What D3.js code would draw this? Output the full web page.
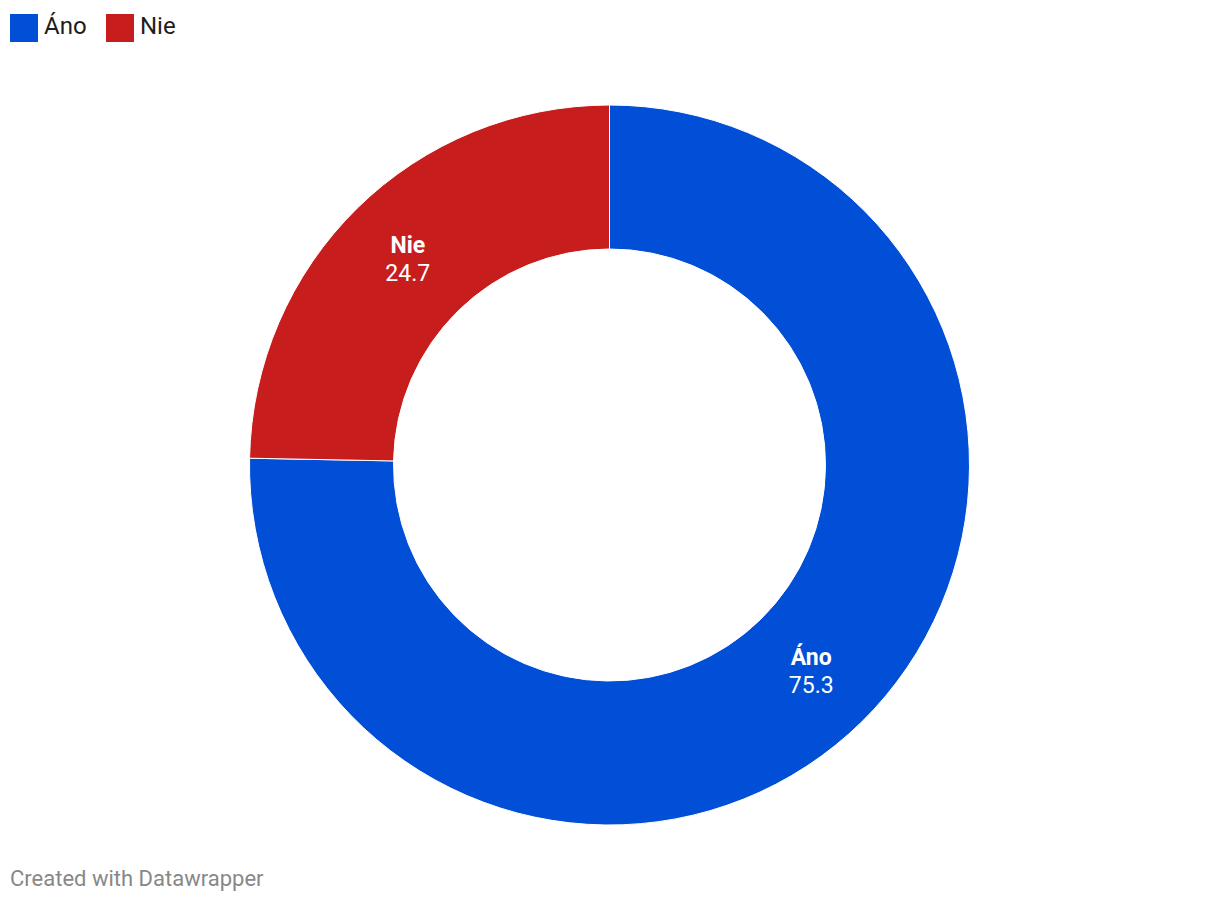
<!DOCTYPE html>
<html>
<head>
<meta charset="utf-8">
<script src="https://cdn.jsdelivr.net/npm/d3@7"></script>
<style>
  body { margin: 0; background: #fff; font-family: Roboto, sans-serif; }
</style>
</head>
<body>
<script>
// data
const categories = ["Áno", "Nie"];
const values = [75.3, 24.7];
const colors = ["#004fd6", "#c71e1d"];

const width = 1220, height = 902;
const cx = 609.5, cy = 465;
const outerR = 360, innerR = 216;

const svg = d3.select("body").append("svg")
  .attr("width", width)
  .attr("height", height);

// legend
const legend = svg.append("g").attr("class", "legend");
const legendX = [10, 106];
const items = legend.selectAll("g")
  .data(categories)
  .enter().append("g")
  .attr("transform", (d, i) => `translate(${legendX[i]},14)`);
items.append("rect")
  .attr("width", 28).attr("height", 28)
  .attr("fill", (d, i) => colors[i]);
items.append("text")
  .attr("x", 34).attr("y", 20)
  .attr("font-size", 24)
  .attr("fill", "#1d1d1d")
  .text(d => d);

// donut
const pie = d3.pie().sort(null).value(d => d.value);
const arc = d3.arc().innerRadius(innerR).outerRadius(outerR);
const data = categories.map((c, i) => ({ name: c, value: values[i], color: colors[i] }));
const arcs = pie(data);

const g = svg.append("g").attr("transform", `translate(${cx},${cy})`);
g.selectAll("path")
  .data(arcs)
  .enter().append("path")
  .attr("d", arc)
  .attr("fill", d => d.data.color)
  .attr("stroke", "#fff")
  .attr("stroke-width", 1);

const labels = g.selectAll("g.label")
  .data(arcs)
  .enter().append("g")
  .attr("class", "label")
  .attr("transform", d => `translate(${arc.centroid(d)})`)
  .attr("text-anchor", "middle")
  .attr("fill", "#fff");
labels.append("text")
  .attr("y", -6)
  .attr("font-size", 23)
  .attr("font-weight", "bold")
  .text(d => d.data.name);
labels.append("text")
  .attr("y", 22)
  .attr("font-size", 23)
  .text(d => d.data.value.toFixed(1));

// footer
svg.append("text")
  .attr("x", 10).attr("y", 886)
  .attr("font-size", 22)
  .attr("fill", "#888")
  .text("Created with Datawrapper");
</script>
</body>
</html>
